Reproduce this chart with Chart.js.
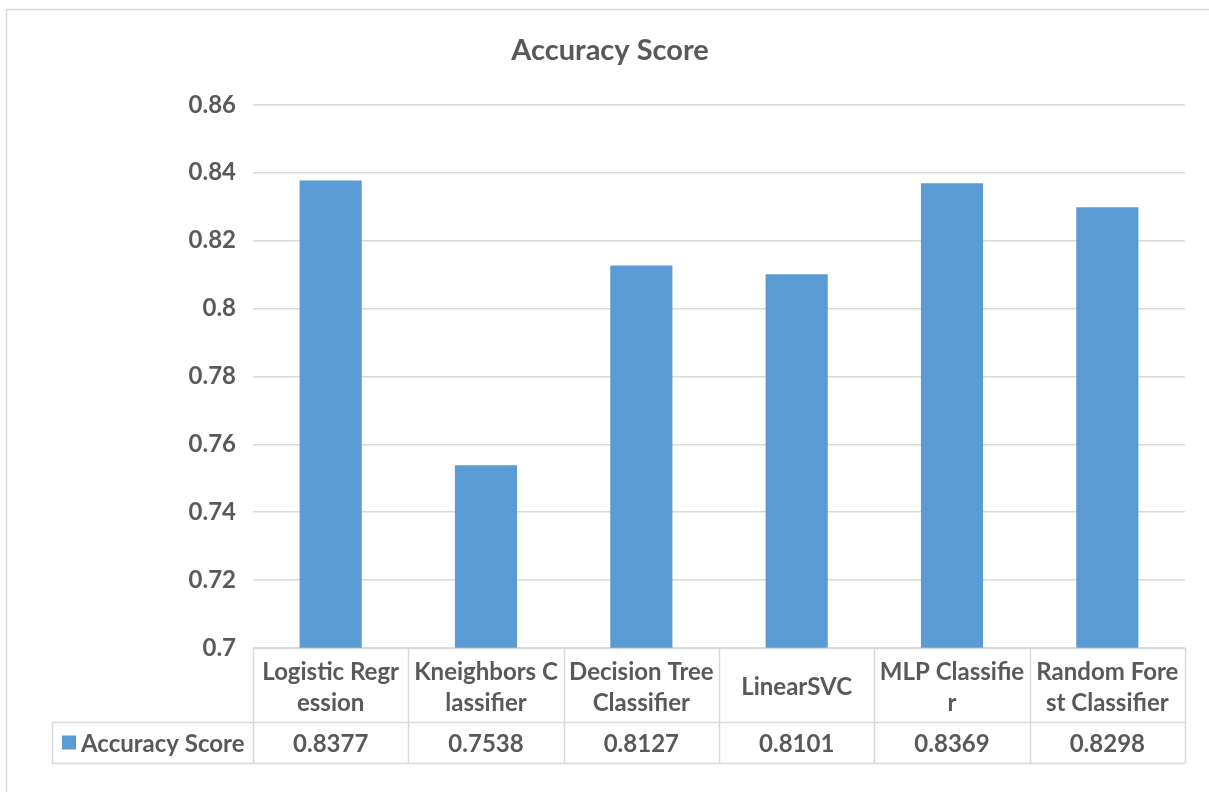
<!DOCTYPE html>
<html>
<head>
<meta charset="utf-8">
<title>Accuracy Score</title>
<script src="https://cdn.jsdelivr.net/npm/chart.js@4.4.1/dist/chart.umd.min.js"></script>
<style>
  html, body { margin: 0; padding: 0; background: #ffffff; }
  #wrap { position: relative; width: 1209px; height: 792px; }
  canvas { display: block; }
</style>
</head>
<body>
<div id="wrap"><canvas id="chart" width="1209" height="792"></canvas></div>
<script>
// Model names, wrapped the way the table header shows them
const categories = [
  ["Logistic Regr", "ession"],
  ["Kneighbors C", "lassifier"],
  ["Decision Tree", "Classifier"],
  ["LinearSVC"],
  ["MLP Classifie", "r"],
  ["Random Fore", "st Classifier"]
];
const seriesName = "Accuracy Score";
const accuracy = [0.8377, 0.7538, 0.8127, 0.8101, 0.8369, 0.8298];
const yTicks = [0.7, 0.72, 0.74, 0.76, 0.78, 0.8, 0.82, 0.84, 0.86];

const FONT = "Lato, 'Open Sans', sans-serif";
const TEXT = "#595959";
const LINE = "#D9D9D9";
const BAR = "#5B9BD5";

// Outer frame plus the data table under the plot (header borders and value row)
const dataTable = {
  id: "dataTable",
  beforeDraw(chart) {
    const ctx = chart.ctx;
    ctx.save();
    ctx.strokeStyle = LINE;
    ctx.lineWidth = 1.5;
    ctx.strokeRect(6.5, 9.5, chart.width + 20, chart.height + 20);
    ctx.restore();
  },
  afterDraw(chart) {
    const ctx = chart.ctx;
    const area = chart.chartArea;
    const n = accuracy.length;
    const colW = (area.right - area.left) / n;
    const top = area.bottom;
    const rowSplit = top + 74;
    const bottom = top + 115;
    const keyLeft = 52;

    ctx.save();
    ctx.strokeStyle = LINE;
    ctx.lineWidth = 1.5;
    ctx.beginPath();
    // horizontal rules
    ctx.moveTo(area.left, top + 0.5);
    ctx.lineTo(area.right, top + 0.5);
    ctx.moveTo(keyLeft, rowSplit + 0.5);
    ctx.lineTo(area.right, rowSplit + 0.5);
    ctx.moveTo(keyLeft, bottom + 0.5);
    ctx.lineTo(area.right, bottom + 0.5);
    // column separators
    for (let i = 0; i <= n; i++) {
      const x = Math.round(area.left + i * colW) + 0.5;
      ctx.moveTo(x, top);
      ctx.lineTo(x, bottom);
    }
    ctx.moveTo(keyLeft + 0.5, rowSplit);
    ctx.lineTo(keyLeft + 0.5, bottom);
    ctx.stroke();

    // legend key and series name
    const midY = (rowSplit + bottom) / 2;
    ctx.fillStyle = BAR;
    ctx.fillRect(62, midY - 7, 14, 14);
    ctx.fillStyle = TEXT;
    ctx.font = "bold 24px " + FONT;
    ctx.textBaseline = "middle";
    ctx.textAlign = "left";
    ctx.fillText(seriesName, 81, midY + 2);

    // values, one per column
    const xs = chart.scales.x;
    ctx.textAlign = "center";
    accuracy.forEach((v, i) => {
      ctx.fillText(v.toFixed(4), xs.getPixelForValue(i), midY + 2);
    });
    ctx.restore();
  }
};

new Chart(document.getElementById("chart"), {
  type: "bar",
  data: {
    labels: categories,
    datasets: [{
      label: seriesName,
      data: accuracy,
      backgroundColor: BAR,
      borderWidth: 0,
      categoryPercentage: 1.0,
      barPercentage: 0.4
    }]
  },
  options: {
    responsive: false,
    animation: false,
    devicePixelRatio: 1,
    layout: { padding: { left: 35, right: 24, top: 0, bottom: 0 } },
    plugins: {
      legend: { display: false },
      tooltip: { enabled: false },
      title: {
        display: true,
        text: "Accuracy Score",
        color: TEXT,
        font: { family: FONT, size: 29, weight: "bold", lineHeight: 1.2 },
        padding: { top: 33, bottom: 37 }
      }
    },
    scales: {
      x: {
        offset: true,
        grid: { display: false, drawTicks: false },
        border: { display: false },
        ticks: {
          color: TEXT,
          font: { family: FONT, size: 24, weight: "bold", lineHeight: 1.3 },
          maxRotation: 0,
          autoSkip: false,
          crossAlign: "center",
          padding: 24
        },
        afterFit(scale) { scale.height = 144; }
      },
      y: {
        min: 0.7,
        max: 0.86,
        afterBuildTicks(scale) { scale.ticks = yTicks.map(v => ({ value: v })); },
        grid: { color: LINE, lineWidth: 1.5, drawTicks: false },
        border: { display: false },
        ticks: {
          color: TEXT,
          font: { family: FONT, size: 24, weight: "bold" },
          padding: 17,
          callback: v => String(+v.toFixed(2))
        },
        afterFit(scale) { scale.width = 218; }
      }
    }
  },
  plugins: [dataTable]
});
</script>
</body>
</html>
